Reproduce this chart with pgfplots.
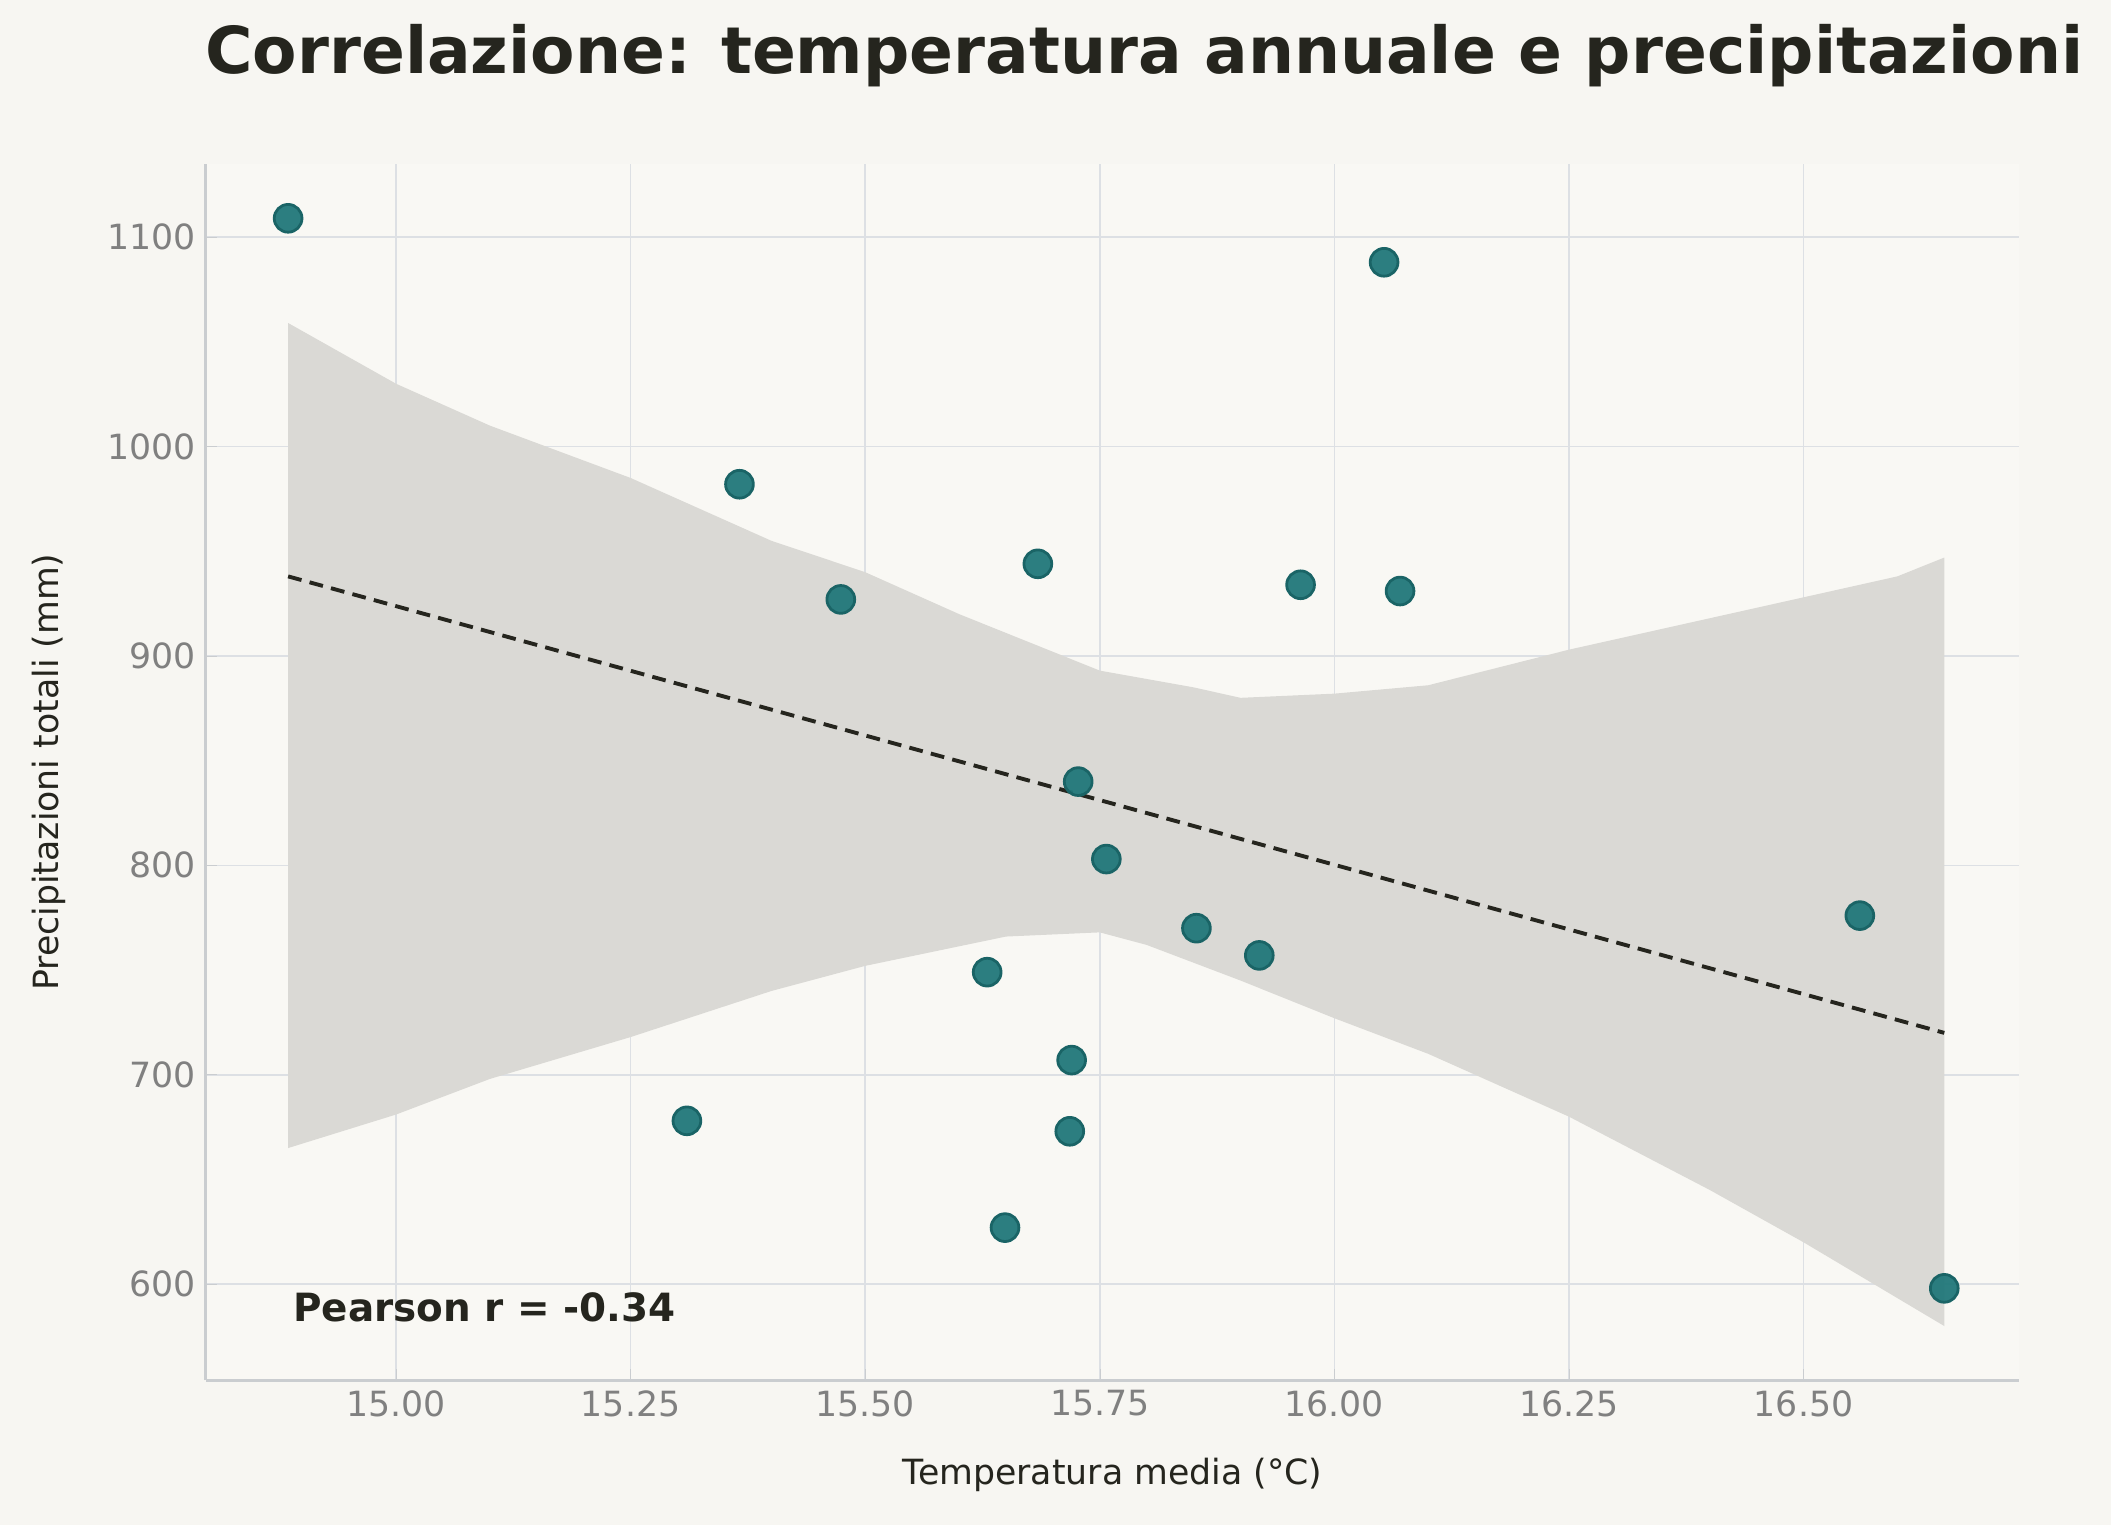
\documentclass[border=0pt]{standalone}
\usepackage{pgfplots}
\pgfplotsset{compat=1.18}
\usepackage{fontspec}
\setmainfont{DejaVu Sans}
\definecolor{bg}{HTML}{F7F6F2}
\definecolor{axbg}{HTML}{F9F8F4}
\definecolor{grd}{HTML}{DDE0E4}
\definecolor{teal}{HTML}{21787A}
\definecolor{tealE}{HTML}{1A6466}
\definecolor{band}{HTML}{DAD9D5}
\definecolor{txt}{HTML}{25251E}
\begin{document}
\begin{tikzpicture}
\fill[bg] (0,0) rectangle (760pt,549pt);
\path[use as bounding box] (0,0) rectangle (760pt,549pt);
\node[font=\bfseries\fontsize{23.3}{27}\selectfont, text=txt] at (412pt,529pt) {Correlazione: temperatura annuale e precipitazioni};
\begin{axis}[at={(74pt,52pt)}, anchor=south west, scale only axis,
 width=653pt, height=438pt,
 xmin=14.797, xmax=16.73, ymin=554, ymax=1135,
 axis background/.style={fill=axbg},
 grid=major, grid style={grd, line width=0.6pt},
 axis x line*=bottom, axis y line*=left,
 axis line style={grd!80!gray, line width=0.8pt},
 xtick={15,15.25,15.5,15.75,16,16.25,16.5},
 xticklabels={15.00,15.25,15.50,15.75,16.00,16.25,16.50},
 ytick={600,700,...,1100},
 /pgf/number format/1000 sep={},
 tick style={grd!80!gray}, major tick length=4pt,
 ticklabel style={font=\fontsize{12.5}{14}\selectfont, text=gray},
 /pgf/number format/assume math mode=true,
 xlabel={Temperatura media (°C)}, ylabel={Precipitazioni totali (mm)},
 label style={font=\fontsize{12.5}{14}\selectfont, text=txt},
 ylabel style={yshift=8pt}, xlabel style={yshift=-8pt},
 clip=false]
\addplot[fill=band, draw=none] coordinates {
(14.885,1059)(15.0,1030)(15.1,1010)(15.25,985)(15.4,955)(15.5,940)(15.6,920)(15.75,893)(15.85,885)(15.9,880)(16.0,882)(16.1,886)(16.25,903)(16.4,918)(16.5,928)(16.6,938)(16.65,947)
(16.65,580)(16.5,620)(16.4,645)(16.25,680)(16.1,710)(16.0,727)(15.9,745)(15.8,762)(15.75,768)(15.65,766)(15.5,752)(15.4,740)(15.25,718)(15.1,698)(15.0,681)(14.885,665)} --cycle;
\addplot[line width=1.4pt, txt, dash pattern=on 5pt off 3pt] coordinates {(14.885,938)(16.65,720)};
\addplot[only marks, mark=*, mark size=5pt, mark options={fill=teal, draw=tealE, line width=1pt, fill opacity=0.95}] coordinates {
(14.885,1109)(15.366,982)(15.474,927)(15.684,944)(15.964,934)(16.053,1088)(16.07,931)(15.727,840)(15.757,803)(15.853,770)(15.92,757)(16.56,776)(15.63,749)(15.72,707)(15.31,678)(15.718,673)(15.649,627)(16.65,598)};
\node[anchor=west, font=\bfseries\fontsize{14}{16}\selectfont, text=txt] at (axis cs:14.88,589) {Pearson r = -0.34};
\end{axis}
\end{tikzpicture}
\end{document}
